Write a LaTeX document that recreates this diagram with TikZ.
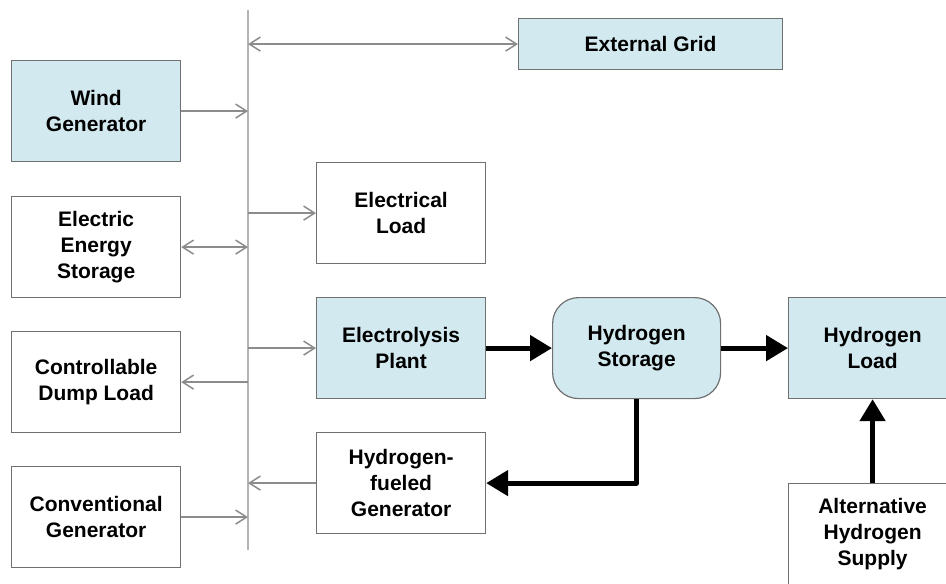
\documentclass[tikz,border=0pt]{standalone}
\usepackage{fontspec}
\setmainfont{Liberation Sans}
\usetikzlibrary{arrows.meta,positioning}
\definecolor{boxfill}{HTML}{D2E9EF}
\definecolor{boxline}{HTML}{707070}
\definecolor{busline}{HTML}{B4B4B4}
\definecolor{elline}{HTML}{8C8C8C}

\begin{document}
\begin{tikzpicture}[x=1pt, y=-1pt,
    every node/.style={font=\bfseries\fontsize{21}{26}\selectfont, align=center, inner sep=0pt},
    unit/.style={draw=boxline, line width=1.2pt, minimum width=169pt, minimum height=101pt, anchor=north west},
    h2unit/.style={unit, fill=boxfill},
    elarrow/.style={elline, line width=1.5pt, -{Straight Barb[length=11pt,width=14pt]}},
    eldouble/.style={elarrow, {Straight Barb[length=11pt,width=14pt]}-{Straight Barb[length=11pt,width=14pt]}},
    h2flow/.style={black, line width=5pt, -{Triangle[length=22pt,width=25pt]}}]
\clip (0,0) rectangle (946,584);
\useasboundingbox (0,0) rectangle (946,584);
% Left column: electrical units
\node[h2unit] (wind) at (11,60) {Wind\\Generator};
\node[unit] (ees) at (11,196) {Electric\\Energy\\Storage};
\node[unit] (dump) at (11,331) {Controllable\\Dump Load};
\node[unit] (conv) at (11,466) {Conventional\\Generator};
% AC bus
\coordinate (bustop) at (248,10);
\coordinate (busbot) at (248,550);
\draw[busline, line width=2.5pt] (bustop) -- (busbot);
% Right of the bus
\node[h2unit, minimum width=264pt, minimum height=51pt] (extgrid) at (518,18) {External Grid};
\node[unit] (elload) at (316,162) {Electrical\\Load};
\node[h2unit] (electrolysis) at (316,297) {Electrolysis\\Plant};
\node[unit] (h2gen) at (316,432) {Hydrogen-\\fueled\\Generator};
% Hydrogen side
\node[h2unit, minimum width=168pt, rounded corners=26pt] (h2storage) at (552,297) {Hydrogen\\Storage};
\node[h2unit, minimum width=168pt] (h2load) at (788,297) {Hydrogen\\Load};
\node[unit, minimum width=168pt] (altsupply) at (788,483) {Alternative\\Hydrogen\\Supply};
% Electrical connections
\draw[eldouble] (extgrid.west -| bustop) -- (extgrid.west);
\draw[elarrow] (wind.east) -- (wind.east -| bustop);
\draw[elarrow] (elload.west -| bustop) -- (elload.west);
\draw[eldouble] (ees.east) -- (ees.east -| bustop);
\draw[elarrow] (electrolysis.west -| bustop) -- (electrolysis.west);
\draw[elarrow] (dump.east -| bustop) -- (dump.east);
\draw[elarrow] (h2gen.west) -- (h2gen.west -| bustop);
\draw[elarrow] (conv.east) -- (conv.east -| bustop);
% Hydrogen flows
\draw[h2flow] (electrolysis.east) -- (h2storage.west);
\draw[h2flow] (h2storage.east) -- (h2load.west);
\draw[h2flow, line join=round] (h2storage.south) |- (h2gen.east);
\draw[h2flow] (altsupply.north) -- (h2load.south);
\end{tikzpicture}
\end{document}
